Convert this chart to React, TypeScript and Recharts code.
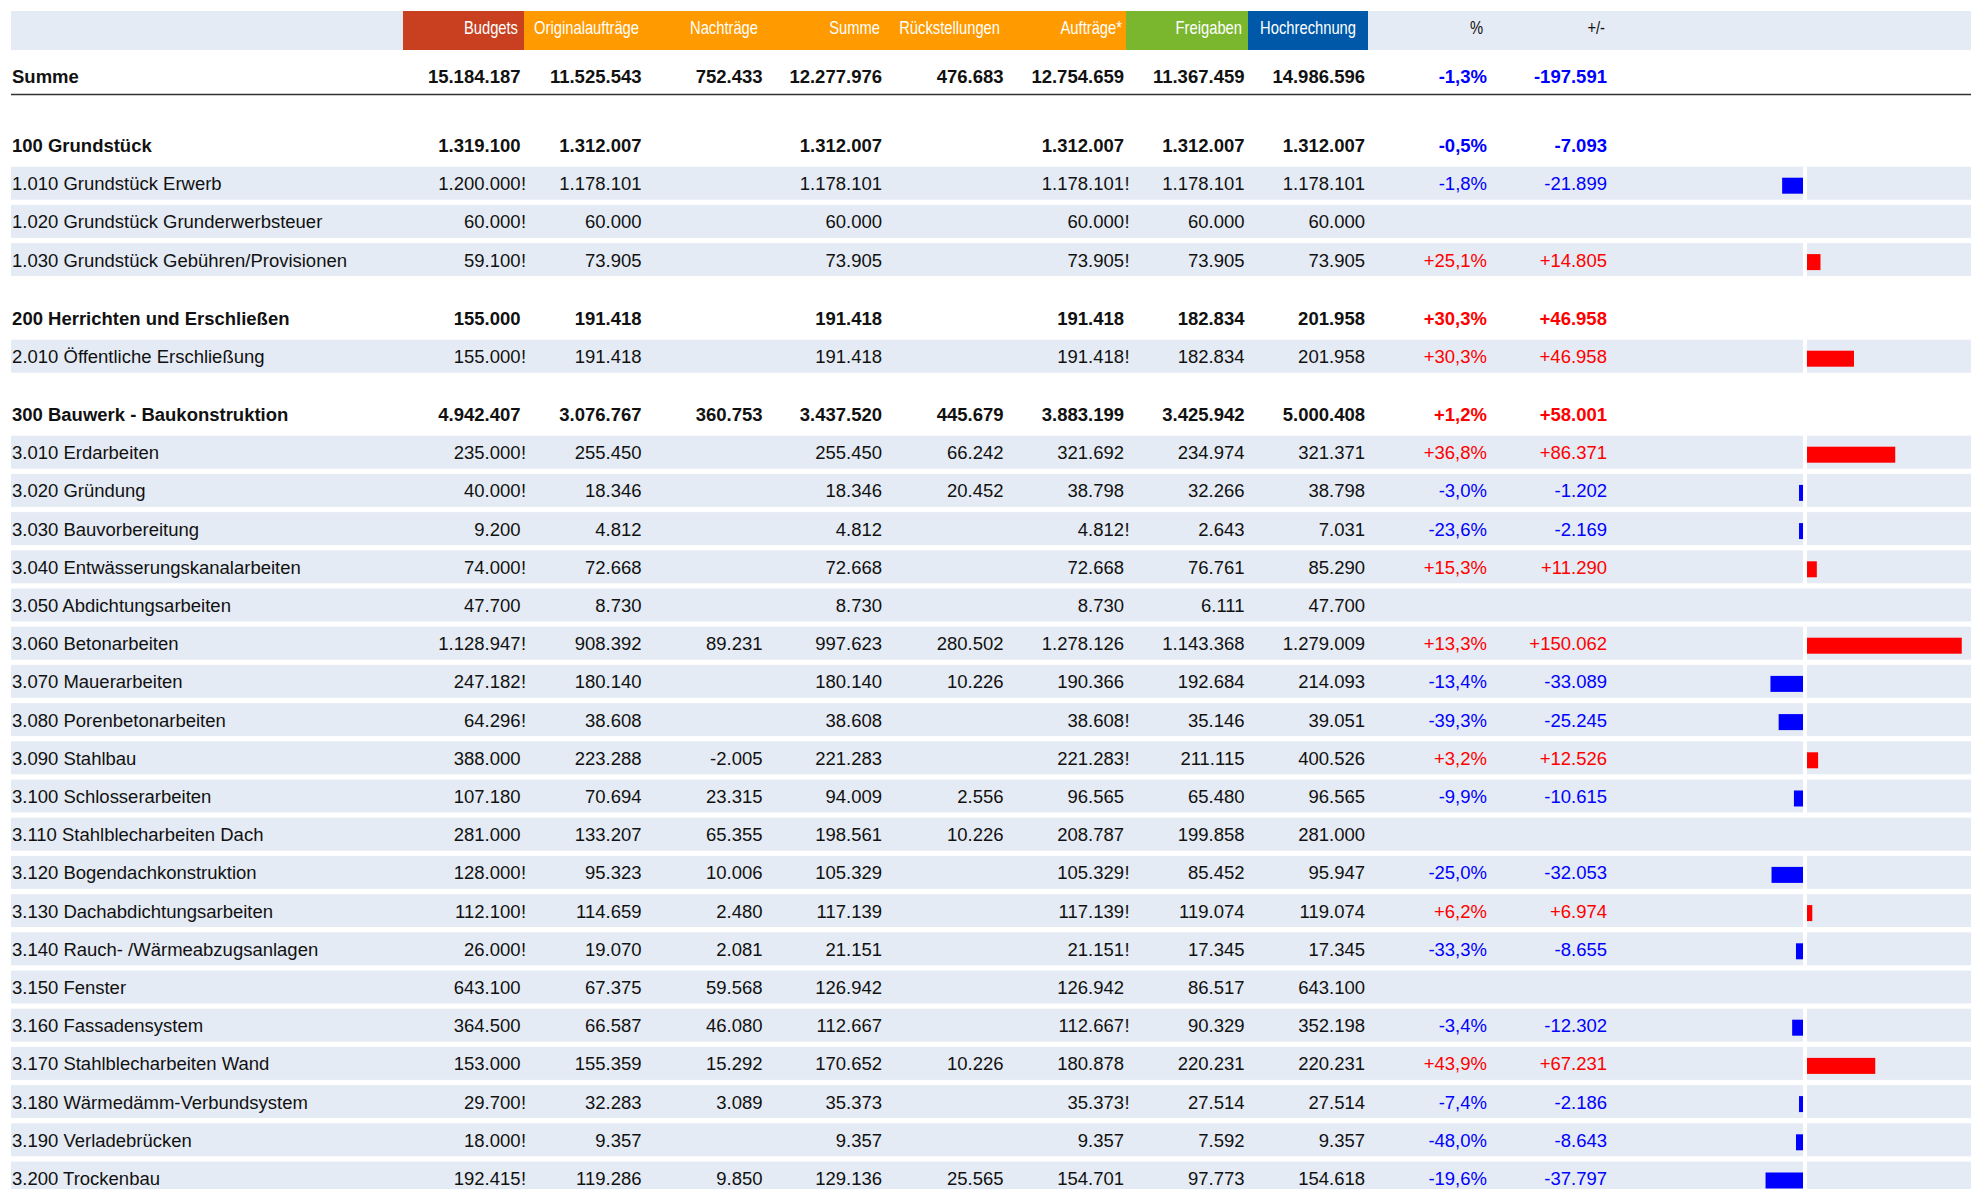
import React from "react";
import { BarChart, Bar, XAxis, YAxis } from "recharts";

// header columns
const columnTitles = ["Budgets", "Originalaufträge", "Nachträge", "Summe", "Rückstellungen", "Aufträge*", "Freigaben", "Hochrechnung", "%", "+/-"];
const columnFills = ["#C8401F", "#FF9A00", "#FF9A00", "#FF9A00", "#FF9A00", "#FF9A00", "#7AB72F", "#0059A8", null, null];

// Summe row
const totals = [15184187, 11525543, 752433, 12277976, 476683, 12754659, 11367459, 14986596];
const totalPct = -1.3;
const totalDiff = -197591;

const rowLabels = [
  "100 Grundstück",
  "1.010 Grundstück Erwerb",
  "1.020 Grundstück Grunderwerbsteuer",
  "1.030 Grundstück Gebühren/Provisionen",
  "200 Herrichten und Erschließen",
  "2.010 Öffentliche Erschließung",
  "300 Bauwerk - Baukonstruktion",
  "3.010 Erdarbeiten",
  "3.020 Gründung",
  "3.030 Bauvorbereitung",
  "3.040 Entwässerungskanalarbeiten",
  "3.050 Abdichtungsarbeiten",
  "3.060 Betonarbeiten",
  "3.070 Mauerarbeiten",
  "3.080 Porenbetonarbeiten",
  "3.090 Stahlbau",
  "3.100 Schlosserarbeiten",
  "3.110 Stahlblecharbeiten Dach",
  "3.120 Bogendachkonstruktion",
  "3.130 Dachabdichtungsarbeiten",
  "3.140 Rauch- /Wärmeabzugsanlagen",
  "3.150 Fenster",
  "3.160 Fassadensystem",
  "3.170 Stahlblecharbeiten Wand",
  "3.180 Wärmedämm-Verbundsystem",
  "3.190 Verladebrücken",
  "3.200 Trockenbau",
];

const budgets = [1319100, 1200000, 60000, 59100, 155000, 155000, 4942407, 235000, 40000, 9200, 74000, 47700, 1128947, 247182, 64296, 388000, 107180, 281000, 128000, 112100, 26000, 643100, 364500, 153000, 29700, 18000, 192415];
const budgetMarks = [0, 1, 1, 1, 0, 1, 0, 1, 1, 0, 1, 0, 1, 1, 1, 0, 0, 0, 1, 1, 1, 0, 0, 0, 1, 1, 1];
const originals = [1312007, 1178101, 60000, 73905, 191418, 191418, 3076767, 255450, 18346, 4812, 72668, 8730, 908392, 180140, 38608, 223288, 70694, 133207, 95323, 114659, 19070, 67375, 66587, 155359, 32283, 9357, 119286];
const nachtraege = [null, null, null, null, null, null, 360753, null, null, null, null, null, 89231, null, null, -2005, 23315, 65355, 10006, 2480, 2081, 59568, 46080, 15292, 3089, null, 9850];
const summen = [1312007, 1178101, 60000, 73905, 191418, 191418, 3437520, 255450, 18346, 4812, 72668, 8730, 997623, 180140, 38608, 221283, 94009, 198561, 105329, 117139, 21151, 126942, 112667, 170652, 35373, 9357, 129136];
const rueckstellungen = [null, null, null, null, null, null, 445679, 66242, 20452, null, null, null, 280502, 10226, null, null, 2556, 10226, null, null, null, null, null, 10226, null, null, 25565];
const auftraege = [1312007, 1178101, 60000, 73905, 191418, 191418, 3883199, 321692, 38798, 4812, 72668, 8730, 1278126, 190366, 38608, 221283, 96565, 208787, 105329, 117139, 21151, 126942, 112667, 180878, 35373, 9357, 154701];
const auftragMarks = [0, 1, 1, 1, 0, 1, 0, 0, 0, 1, 0, 0, 0, 0, 1, 1, 0, 0, 1, 1, 1, 0, 1, 0, 1, 0, 0];
const freigaben = [1312007, 1178101, 60000, 73905, 182834, 182834, 3425942, 234974, 32266, 2643, 76761, 6111, 1143368, 192684, 35146, 211115, 65480, 199858, 85452, 119074, 17345, 86517, 90329, 220231, 27514, 7592, 97773];
const hochrechnung = [1312007, 1178101, 60000, 73905, 201958, 201958, 5000408, 321371, 38798, 7031, 85290, 47700, 1279009, 214093, 39051, 400526, 96565, 281000, 95947, 119074, 17345, 643100, 352198, 220231, 27514, 9357, 154618];
const percents = [-0.5, -1.8, null, 25.1, 30.3, 30.3, 1.2, 36.8, -3.0, -23.6, 15.3, null, 13.3, -13.4, -39.3, 3.2, -9.9, null, -25.0, 6.2, -33.3, null, -3.4, 43.9, -7.4, -48.0, -19.6];
const diffs = [-7093, -21899, null, 14805, 46958, 46958, 58001, 86371, -1202, -2169, 11290, null, 150062, -33089, -25245, 12526, -10615, null, -32053, 6974, -8655, null, -12302, 67231, -2186, -8643, -37797];

const BAND = "#E5EBF4";
const RED = "#FF0000";
const BLUE = "#0000FF";
const FONT = "'Liberation Sans', Arial, sans-serif";
const FS = 18.5;
const PITCH = 38.2;
const COL_LEFT = [403, 524, 645, 765, 886, 1006, 1126, 1248, 1368, 1489];
const COL_RIGHT = [520.5, 641.5, 762.5, 882, 1003.5, 1124, 1244.5, 1365, 1487, 1607];
const HEAD_RIGHT = [518, 639, 758, 880, 1000, 1122, 1242, 1356, 1483, 1605];
const SECTION_TOPS = [125.7, 299.2, 394.7];

const isHeader = (label: string) => /^\d00 /.test(label);
const fmt = (n: number) => (n < 0 ? "-" : "") + Math.abs(n).toString().replace(/\B(?=(\d{3})+(?!\d))/g, ".");
const fmtDiff = (n: number) => (n > 0 ? "+" : "") + fmt(n);
const fmtPct = (n: number) => (n > 0 ? "+" : "") + n.toFixed(1).replace(".", ",") + "%";
const signColor = (n: number) => (n > 0 ? RED : BLUE);

const rowIndex: Record<string, number> = {};
rowLabels.forEach((l, i) => (rowIndex[l] = i));

function RowTick(props: any) {
  const { y, payload } = props;
  const i = rowIndex[payload.value];
  const head = isHeader(payload.value);
  const base = y + 7;
  const weight = head ? "bold" : "normal";
  const nums = [budgets[i], originals[i], nachtraege[i], summen[i], rueckstellungen[i], auftraege[i], freigaben[i], hochrechnung[i]];
  return (
    <g fontFamily={FONT} fontSize={FS} fontWeight={weight}>
      <text x={12} y={base} fill="#111">{payload.value}</text>
      {nums.map((v, c) =>
        v == null ? null : (
          <text key={c} x={COL_RIGHT[c]} y={base} textAnchor="end" fill="#111">{fmt(v)}</text>
        )
      )}
      {budgetMarks[i] ? <text x={COL_RIGHT[0] + 0.5} y={base} fill="#111">!</text> : null}
      {auftragMarks[i] ? <text x={COL_RIGHT[5] + 0.5} y={base} fill="#111">!</text> : null}
      {percents[i] != null && (
        <text x={COL_RIGHT[8]} y={base} textAnchor="end" fill={signColor(percents[i] as number)}>{fmtPct(percents[i] as number)}</text>
      )}
      {diffs[i] != null && (
        <text x={COL_RIGHT[9]} y={base} textAnchor="end" fill={signColor(diffs[i] as number)}>{fmtDiff(diffs[i] as number)}</text>
      )}
    </g>
  );
}

// light row band behind each detail row
function RowBand(props: any) {
  const { y, height, payload } = props;
  if (!payload || isHeader(payload.label)) return null;
  const cy = y + height / 2;
  return <rect x={11} y={cy - 16.5} width={1960} height={33} fill={BAND} />;
}

function DiffBar(props: any) {
  const { x, y, width, height, payload } = props;
  const v = payload ? payload.diff : 0;
  if (!v) return null;
  const left = Math.min(x, x + width);
  const right = Math.max(x, x + width);
  const zero = v >= 0 ? left : right;
  const cy = y + height / 2;
  // small deviations still get a visible stub
  const bw = Math.max(v >= 0 ? right - zero - 2 : zero - 2 - left, 4);
  const bx = v >= 0 ? zero + 2 : zero - 2 - bw;
  return (
    <g>
      <rect x={zero - 2} y={cy - 17} width={4} height={34} fill="#FFFFFF" />
      <rect x={bx} y={cy - 8 + 2.5} width={bw} height={16} fill={v >= 0 ? RED : BLUE} />
    </g>
  );
}

function Section({ labels, top }: { labels: string[]; top: number }) {
  const data = labels.map((label) => ({
    label,
    diff: isHeader(label) ? 0 : diffs[rowIndex[label]] ?? 0,
  }));
  return (
    <div style={{ position: "absolute", left: 0, top }}>
      <BarChart
        layout="vertical"
        width={1976}
        height={labels.length * PITCH}
        data={data}
        margin={{ top: 0, right: 5, bottom: 0, left: 0 }}
        barSize={16}
      >
        <XAxis type="number" domain={[-158000, 158900]} hide allowDataOverflow />
        <YAxis
          type="category"
          dataKey="label"
          width={1640}
          axisLine={false}
          tickLine={false}
          interval={0}
          tick={RowTick}
        />
        <Bar dataKey="diff" isAnimationActive={false} background={RowBand} shape={DiffBar} />
      </BarChart>
    </div>
  );
}

export default function App() {
  // split rows into sections at the x00 header rows
  const sections: string[][] = [];
  rowLabels.forEach((l) => {
    if (isHeader(l)) sections.push([l]);
    else sections[sections.length - 1].push(l);
  });

  return (
    <div style={{ position: "fixed", left: 0, top: 0, width: 1976, height: 1189, overflow: "hidden", background: "#fff" }}>
      <svg width={1976} height={110} style={{ position: "absolute", left: 0, top: 0 }}>
        <rect x={11} y={11} width={1960} height={39} fill={BAND} />
        {columnFills.map((f, c) =>
          f ? <rect key={c} x={COL_LEFT[c]} y={11} width={COL_LEFT[c + 1] - COL_LEFT[c]} height={39} fill={f} /> : null
        )}
        {columnTitles.map((t, c) => (
          <text
            key={t}
            transform={`translate(${HEAD_RIGHT[c]} 34) scale(0.82 1)`}
            textAnchor="end"
            fontFamily={FONT}
            fontSize={18}
            fill={columnFills[c] ? "#FFFFFF" : "#111"}
          >
            {t}
          </text>
        ))}
        <g fontFamily={FONT} fontSize={FS} fontWeight="bold">
          <text x={12} y={82.5} fill="#111">Summe</text>
          {totals.map((v, c) => (
            <text key={c} x={COL_RIGHT[c]} y={82.5} textAnchor="end" fill="#111">{fmt(v)}</text>
          ))}
          <text x={COL_RIGHT[8]} y={82.5} textAnchor="end" fill={signColor(totalPct)}>{fmtPct(totalPct)}</text>
          <text x={COL_RIGHT[9]} y={82.5} textAnchor="end" fill={signColor(totalDiff)}>{fmtDiff(totalDiff)}</text>
        </g>
        <line x1={11} x2={1971} y1={94.5} y2={94.5} stroke="#333" strokeWidth={1.5} />
      </svg>
      {sections.map((labels, s) => (
        <Section key={s} labels={labels} top={SECTION_TOPS[s]} />
      ))}
    </div>
  );
}
